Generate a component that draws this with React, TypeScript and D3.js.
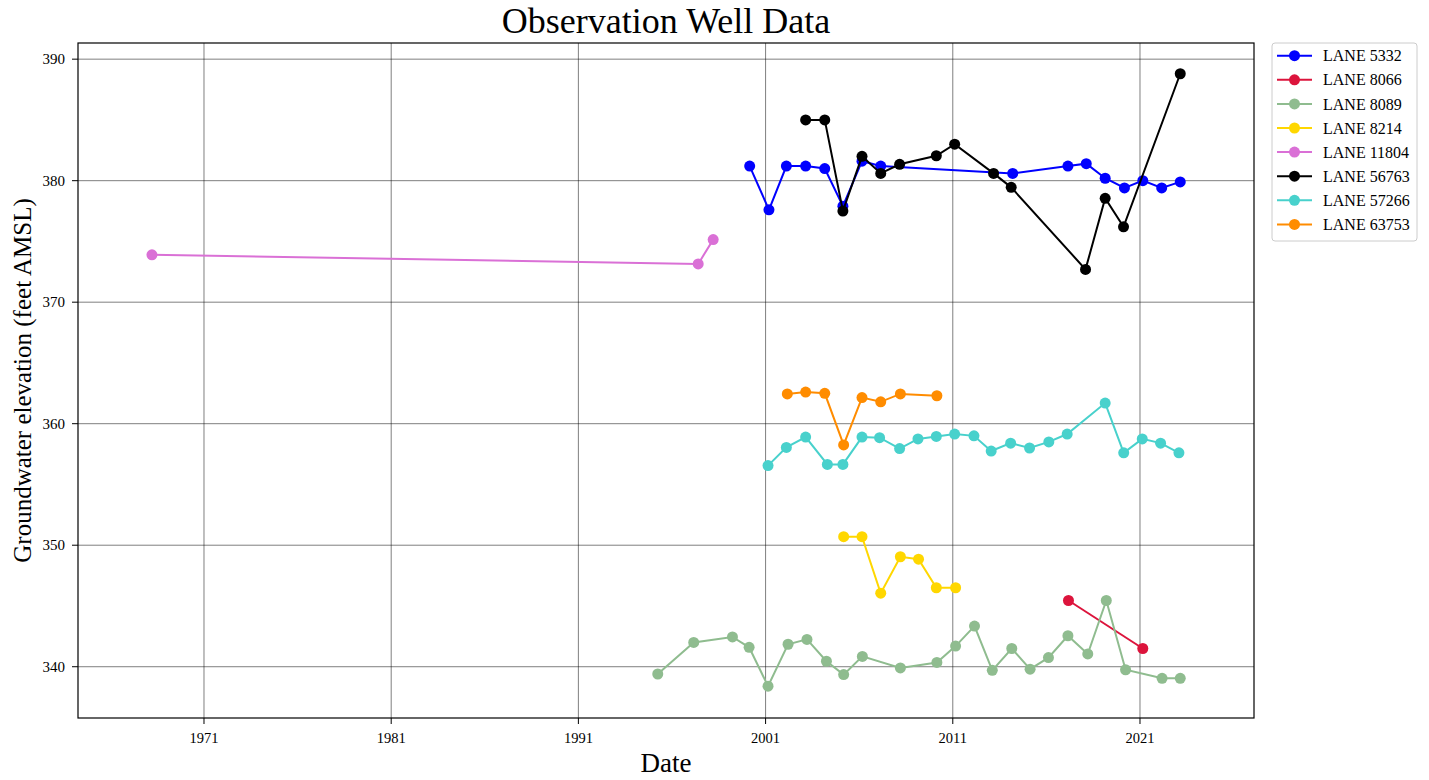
import React, { useEffect } from "react";
import * as d3 from "d3";

// ---- Data (decimal years, feet AMSL) ----
const seriesNames = [
  "LANE 5332",
  "LANE 8066",
  "LANE 8089",
  "LANE 8214",
  "LANE 11804",
  "LANE 56763",
  "LANE 57266",
  "LANE 63753",
];
const seriesColors = [
  "#0000ff",
  "#dc143c",
  "#8fbc8f",
  "#ffd700",
  "#da70d6",
  "#000000",
  "#48d1cc",
  "#ff8c00",
];

const lane5332Years = [2000.15, 2001.18, 2002.11, 2003.14, 2004.16, 2005.13, 2006.15, 2007.15, 2014.2, 2017.15, 2018.13, 2019.14, 2020.17, 2021.15, 2022.16, 2023.15];
const lane5332Values = [381.2, 377.6, 381.2, 381.2, 381.0, 377.9, 381.6, 381.2, 380.6, 381.2, 381.4, 380.2, 379.4, 380.0, 379.4, 379.9];

const lane8066Years = [2017.18, 2021.15];
const lane8066Values = [345.45, 341.5];

const lane8089Years = [1995.24, 1997.16, 1999.23, 2000.12, 2001.13, 2002.2, 2003.21, 2004.25, 2005.17, 2006.17, 2008.2, 2010.15, 2011.15, 2012.16, 2013.11, 2014.15, 2015.13, 2016.11, 2017.15, 2018.21, 2019.2, 2020.23, 2022.18, 2023.15];
const lane8089Values = [339.4, 342.0, 342.45, 341.6, 338.4, 341.85, 342.25, 340.45, 339.35, 340.85, 339.9, 340.35, 341.7, 343.35, 339.7, 341.5, 339.8, 340.75, 342.55, 341.05, 345.45, 339.75, 339.05, 339.05];

const lane8214Years = [2005.17, 2006.15, 2007.15, 2008.2, 2009.17, 2010.12, 2011.15];
const lane8214Values = [350.7, 350.7, 346.05, 349.05, 348.85, 346.5, 346.5];

const lane11804Years = [1968.22, 1997.4, 1998.2];
const lane11804Values = [373.9, 373.15, 375.15];

const lane56763Years = [2003.14, 2004.16, 2005.13, 2006.15, 2007.15, 2008.16, 2010.12, 2011.1, 2013.18, 2014.12, 2018.09, 2019.14, 2020.12, 2023.15];
const lane56763Values = [385.0, 385.0, 377.5, 382.0, 380.6, 381.35, 382.05, 383.0, 380.6, 379.45, 372.7, 378.55, 376.2, 388.8];

const lane57266Years = [2001.13, 2002.11, 2003.14, 2004.3, 2005.13, 2006.15, 2007.09, 2008.16, 2009.14, 2010.12, 2011.1, 2012.13, 2013.05, 2014.09, 2015.1, 2016.13, 2017.11, 2019.14, 2020.13, 2021.12, 2022.1, 2023.08];
const lane57266Values = [356.55, 358.05, 358.9, 356.65, 356.65, 358.9, 358.85, 357.95, 358.75, 358.95, 359.15, 359.0, 357.75, 358.4, 358.0, 358.5, 359.15, 361.7, 357.6, 358.75, 358.4, 357.6];

const lane63753Years = [2002.16, 2003.14, 2004.16, 2005.17, 2006.15, 2007.15, 2008.2, 2010.15];
const lane63753Values = [362.45, 362.6, 362.5, 358.25, 362.15, 361.8, 362.45, 362.3];

const xTickYears = [1971, 1981, 1991, 2001, 2011, 2021];
const yTickValues = [340, 350, 360, 370, 380, 390];

const allYears = [lane5332Years, lane8066Years, lane8089Years, lane8214Years, lane11804Years, lane56763Years, lane57266Years, lane63753Years];
const allValues = [lane5332Values, lane8066Values, lane8089Values, lane8214Values, lane11804Values, lane56763Values, lane57266Values, lane63753Values];

// ---- Layout ----
const W = 1429;
const H = 780;
const plot = { left: 78, right: 1254, top: 43, bottom: 718 };
const FONT = "'Liberation Serif', 'Times New Roman', serif";

export default function App() {
  useEffect(() => {
    document.body.style.margin = "0";
  }, []);

  const x = d3.scaleLinear().domain([1964.27, 2027.09]).range([plot.left, plot.right]);
  const y = d3.scaleLinear().domain([335.78, 391.33]).range([plot.bottom, plot.top]);

  const series = seriesNames.map((name, i) => ({
    name,
    color: seriesColors[i],
    points: allYears[i].map((yr, j) => ({ x: yr, y: allValues[i][j] })),
  }));

  const line = d3
    .line<{ x: number; y: number }>()
    .x((d) => x(d.x))
    .y((d) => y(d.y));

  const legend = { left: 1272, top: 43, width: 145, height: 198, rowH: 24.1, firstY: 55.7 };

  return (
    <svg width={W} height={H} style={{ display: "block", background: "#fff" }} fontFamily={FONT}>
      <defs>
        <clipPath id="plotclip">
          <rect x={plot.left} y={plot.top} width={plot.right - plot.left} height={plot.bottom - plot.top} />
        </clipPath>
      </defs>
      {/* grid */}
      <g stroke="#000" strokeOpacity={0.5} strokeWidth={1}>
        {xTickYears.map((t) => (
          <line key={"gx" + t} x1={x(t)} x2={x(t)} y1={plot.top} y2={plot.bottom} />
        ))}
        {yTickValues.map((t) => (
          <line key={"gy" + t} x1={plot.left} x2={plot.right} y1={y(t)} y2={y(t)} />
        ))}
      </g>
      {/* series */}
      <g clipPath="url(#plotclip)">
        {series.map((s) => (
          <g key={s.name}>
            <path d={line(s.points) || ""} fill="none" stroke={s.color} strokeWidth={2} />
            {s.points.map((p, j) => (
              <circle key={j} cx={x(p.x)} cy={y(p.y)} r={5.5} fill={s.color} />
            ))}
          </g>
        ))}
      </g>
      {/* frame */}
      <rect
        x={plot.left}
        y={plot.top}
        width={plot.right - plot.left}
        height={plot.bottom - plot.top}
        fill="none"
        stroke="#000"
        strokeWidth={1.2}
      />
      {/* x ticks */}
      <g>
        {xTickYears.map((t) => (
          <g key={"xt" + t} transform={`translate(${x(t)},${plot.bottom})`}>
            <line y1={0} y2={6} stroke="#000" strokeWidth={1} />
            <text y={25} textAnchor="middle" fontSize={14.5} fill="#000">
              {t}
            </text>
          </g>
        ))}
      </g>
      {/* y ticks */}
      <g>
        {yTickValues.map((t) => (
          <g key={"yt" + t} transform={`translate(${plot.left},${y(t)})`}>
            <line x1={0} x2={-6} stroke="#000" strokeWidth={1} />
            <text x={-13} dy="0.35em" textAnchor="end" fontSize={15} fill="#000">
              {t}
            </text>
          </g>
        ))}
      </g>
      {/* title and labels */}
      <text x={(plot.left + plot.right) / 2} y={33} textAnchor="middle" fontSize={36} fill="#000">
        Observation Well Data
      </text>
      <text x={(plot.left + plot.right) / 2} y={772} textAnchor="middle" fontSize={27} fill="#000">
        Date
      </text>
      <text
        transform={`translate(31,${(plot.top + plot.bottom) / 2}) rotate(-90)`}
        textAnchor="middle"
        fontSize={25}
        fill="#000"
      >
        Groundwater elevation (feet AMSL)
      </text>
      {/* legend */}
      <rect
        x={legend.left}
        y={legend.top}
        width={legend.width}
        height={legend.height}
        rx={3}
        fill="#fff"
        stroke="#cccccc"
        strokeWidth={1}
      />
      {series.map((s, i) => {
        const cy = legend.firstY + i * legend.rowH;
        return (
          <g key={"lg" + s.name}>
            <line x1={1277} x2={1312} y1={cy} y2={cy} stroke={s.color} strokeWidth={2} />
            <circle cx={1294.5} cy={cy} r={5.5} fill={s.color} />
            <text x={1323} y={cy} dy="0.35em" fontSize={16} fill="#000">
              {s.name}
            </text>
          </g>
        );
      })}
    </svg>
  );
}
